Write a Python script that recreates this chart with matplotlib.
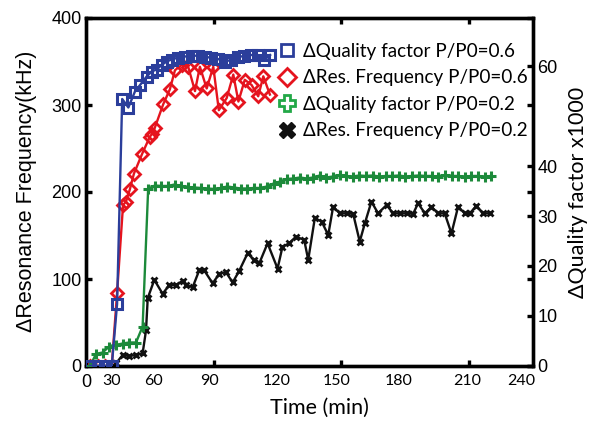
import matplotlib
matplotlib.use("Agg")
import matplotlib.pyplot as plt
from matplotlib.lines import Line2D

# ---------------- data ----------------
# time axis (axis units; visible ticks at 60,120,180)
blue_t = [1.9, 5.8, 8.9, 12.1, 14.6, 17.0, 19.9, 23.0, 25.4, 28.5, 30.8, 33.2, 35.5, 37.9,
          40.2, 43.3, 46.5, 49.6, 52.7, 55.8, 58.9, 62.0, 65.1, 68.2, 71.3, 74.4, 77.5,
          80.6, 83.7, 86.5]
blue_q = [0, 0, 0, 0, 12.4, 53.4, 51.7, 54.9, 56.2, 57.9, 58.9, 59.3, 60.2, 60.9,
          61.3, 61.7, 61.9, 62.0, 62.1, 61.9, 61.6, 61.4, 60.9, 61.2, 61.8, 62.0, 62.2,
          62.2, 61.2, 62.2]

red_t = [1.9, 5.8, 8.9, 12.1, 14.6, 17.4, 18.8, 20.6, 22.5, 26.4, 29.9, 31.0, 32.2, 36.3,
         39.4, 41.8, 44.9, 48.0, 51.2, 53.5, 56.7, 59.8, 62.4, 66.1, 69.2, 71.6, 74.6,
         77.8, 80.9, 83.3, 86.4]
red_v = [0, 0, 0, 0, 84, 185, 189, 203, 221, 244, 263, 267, 273, 301,
         318, 340, 346, 344, 316, 344, 319, 344, 294, 308, 335, 304, 329,
         323, 310, 333, 312]

green_t = [1.9, 4.7, 7.8, 10.9, 14.1, 17.2, 20.3, 23.5, 26.6,
           29.2, 32.3, 35.4, 38.5, 41.6, 44.7, 47.8, 50.9, 54.0, 57.1, 60.2, 63.3, 66.4,
           69.5, 72.6, 75.7, 78.8, 81.9, 85.0, 88.1, 91.2, 94.3, 97.4, 100.5, 103.6,
           106.7, 109.8, 112.9, 116.0, 119.1, 122.2, 125.3, 128.4, 131.5, 134.6, 137.7,
           140.8, 143.9, 147.0, 150.1, 153.2, 156.3, 159.4, 162.5, 165.6, 168.7, 171.8,
           174.9, 178.0, 181.1, 184.2, 187.3, 190.4]
green_q = [0, 2.4, 2.7, 3.9, 4.2, 4.5, 4.7, 4.7, 7.9,
           35.4, 36.1, 36.0, 36.0, 36.3, 36.0, 35.8, 35.7, 35.6, 35.5, 35.4, 35.6, 35.9,
           35.7, 35.5, 35.5, 35.6, 35.6, 35.9, 36.5, 36.9, 37.4, 37.5, 37.7, 37.5,
           37.7, 38.1, 37.7, 37.9, 38.2, 38.0, 37.9, 38.1, 38.0, 38.1, 37.9,
           38.0, 38.0, 38.1, 37.9, 38.0, 38.1, 38.0, 38.0, 37.9, 38.2, 38.0,
           38.0, 37.9, 38.0, 38.0, 37.9, 38.0]

black_t = [12.7, 14.1, 17.2, 20.3, 23.5, 26.6, 28.2, 29.0, 32.1, 36.0, 39.1, 42.3, 45.4,
           47.0, 50.1, 53.2, 55.5, 59.5, 62.6, 65.7, 68.9, 72.0, 75.9, 79.0, 81.4, 85.3,
           90.0, 92.3, 95.4, 98.6, 102.5, 104.4, 107.5, 110.7, 113.8, 116.1, 119.2, 122.4,
           125.5, 128.6, 131.0, 134.1, 137.2, 141.2, 144.3, 147.4, 150.6, 153.7, 156.0,
           159.2, 162.3, 165.4, 168.5, 171.7, 174.8, 177.9, 180.3, 183.4, 186.5, 189.7]
black_v = [0, 3, 12.6, 11.5, 12.6, 14.6, 41, 78, 99, 83, 93, 93, 98,
           93, 90.5, 110, 110, 95, 106, 108, 96, 109.5, 129.5, 122, 118, 141,
           112, 137, 141, 148.6, 145, 122, 170, 166, 150.6, 183, 175.5, 175.5,
           175, 143, 164, 189, 175.5, 185, 175.5, 175.5, 175.5, 175, 187,
           175.5, 183, 175.5, 175.5, 152.5, 183, 175.5, 175.5, 184, 175.5, 175.5]

xtick_labels = ["0", "30", "60", "90", "120", "150", "180", "210", "240"]
xtick_label_pos = [0, 12.2, 31.9, 58.2, 89.7, 117.8, 146.9, 179.3, 204.7]
xtick_marks = [60, 120, 180]
left_ticks = [0, 100, 200, 300, 400]
right_ticks = [0, 10, 20, 30, 40, 60]

legend_labels = ["\u0394Quality factor P/P0=0.6", "\u0394Res. Frequency P/P0=0.6",
                 "\u0394Quality factor P/P0=0.2", "\u0394Res. Frequency P/P0=0.2"]

# ---------------- style ----------------
BLUE = "#2B3E9B"
RED = "#E5141E"
GREEN = "#1C8A3A"
LGREEN = "#22A847"
BLACK = "#111111"
ARIAL = "Liberation Sans"
CALIBRI = "Lato"

fig = plt.figure(figsize=(5.99, 4.25), dpi=100)
ax = fig.add_axes([86 / 599, 1 - 366 / 425, 447 / 599, 348 / 425])
ax2 = ax.twinx()

ax.plot(red_t, red_v, color=RED, lw=1.7, marker="D", ms=6.5, mfc="none", mec=RED, mew=2.0, zorder=3)
ax.plot(black_t, black_v, color=BLACK, lw=1.7, marker="x", ms=4, mew=2.0, zorder=3)
ax2.plot(green_t, green_q, color=GREEN, lw=1.7, marker="+", ms=7, mew=2.2, zorder=3)
ax2.plot(blue_t, blue_q, color=BLUE, lw=1.7, marker="s", ms=6.5, mfc="none", mec=BLUE, mew=2.2, zorder=4)

ax.set_xlim(0, 210)
ax.set_ylim(0, 400)
ax2.set_ylim(0, 400 * 0.87 / 5.0)

for a in (ax, ax2):
    for s in a.spines.values():
        s.set_linewidth(2.4)
        s.set_color("black")

ax.set_xticks(xtick_label_pos)
ax.set_xticklabels(xtick_labels)
ax.set_xticks(xtick_marks, minor=True)
ax.tick_params(axis="x", which="major", length=0, pad=6, labelsize=11.5)
ax.tick_params(axis="x", which="minor", direction="in", length=4, width=2.4, top=True, bottom=True)
for lab in ax.get_xticklabels():
    lab.set_fontfamily(CALIBRI)
xl = ax.get_xticklabels()
xl[0].set_fontfamily(ARIAL)
xl[0].set_fontsize(13)

ax.set_yticks(left_ticks)
ax.tick_params(axis="y", direction="in", length=4, width=2.4, left=True, right=True,
               labelsize=13, pad=3)
for lab in ax.get_yticklabels():
    lab.set_fontfamily(ARIAL)

ax2.set_yticks(right_ticks)
ax2.tick_params(axis="y", direction="in", length=4, width=2.4, labelsize=13, pad=3)
for lab in ax2.get_yticklabels():
    lab.set_fontfamily(ARIAL)

ax.set_ylabel("\u0394Resonance Frequency(kHz)", fontfamily=ARIAL, fontsize=15.5)
ax.yaxis.set_label_coords((27 - 86) / 447, (366 - 191.5) / 348)
ax.yaxis.label.set_verticalalignment("center")
ax2.set_ylabel("\u0394Quality factor x1000", fontfamily=CALIBRI, fontsize=15.5)
ax2.yaxis.set_label_coords((578 - 86) / 447, (366 - 192.5) / 348)
ax2.yaxis.label.set_verticalalignment("center")
ax2.yaxis.label.set_rotation(90)
ax.set_xlabel("Time (min)", fontfamily=CALIBRI, fontsize=15.5)
ax.xaxis.set_label_coords((319.5 - 86) / 447, (366 - 408) / 348)
ax.xaxis.label.set_verticalalignment("center")

handles = [
    Line2D([], [], ls="none", marker="s", ms=9, mfc="none", mec=BLUE, mew=2.0),
    Line2D([], [], ls="none", marker="D", ms=9, mfc="none", mec=RED, mew=2.0),
    Line2D([], [], ls="none", marker="P", ms=12, mfc="white", mec=LGREEN, mew=2.0),
    Line2D([], [], ls="none", marker="X", ms=11, mfc=BLACK, mec=BLACK, mew=1.0),
]
fig.legend(handles, legend_labels, loc="upper left",
           bbox_to_anchor=(278 / 599, 1 - 43 / 425), bbox_transform=fig.transFigure,
           frameon=False, borderpad=0, handlelength=0.9, handletextpad=0.4,
           labelspacing=0.5, prop={"family": CALIBRI, "size": 13.6}, borderaxespad=0)

fig.savefig("out.png", dpi=100)
